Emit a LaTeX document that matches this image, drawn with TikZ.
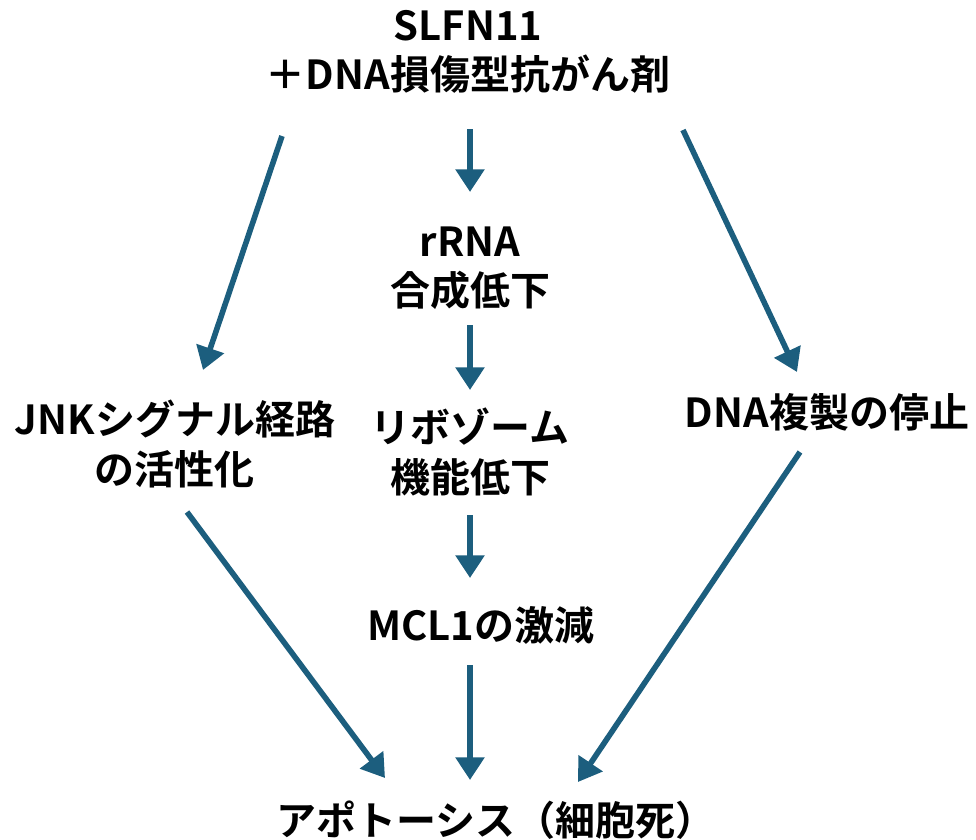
\documentclass[tikz,border=0pt]{standalone}
\usepackage{fontspec}
\setmainfont{Noto Sans CJK JP}[UprightFont=* Bold]
\usetikzlibrary{arrows.meta}
\definecolor{arrowblue}{RGB}{28,94,126}
\begin{document}
\begin{tikzpicture}[x=0.75pt,y=-0.75pt,
  lbl/.style={inner sep=0pt,align=center,font=\fontsize{30}{37}\selectfont},
  flow/.style={draw=arrowblue,line width=4.2pt,-{Triangle[width=21pt,length=17pt]}}]
\useasboundingbox (0,0) rectangle (976,840);
\node[lbl] (top) at (468,52) {SLFN11\\＋DNA損傷型抗がん剤};
\node[lbl] (rrna) at (470,268) {rRNA\\合成低下};
\node[lbl] (jnk) at (175,444) {JNKシグナル経路\\の活性化};
\node[lbl] (ribo) at (470,452) {リボゾーム\\機能低下};
\node[lbl] (dna) at (827,412) {DNA複製の停止};
\node[lbl] (mcl) at (481,625) {MCL1の激減};
\node[lbl] (apo) at (496,820) {アポトーシス（細胞死）};
\coordinate (a1s) at (282,136); \coordinate (a1e) at (203,370);
\coordinate (a2s) at (470,129); \coordinate (a2e) at (470,192);
\coordinate (a3s) at (683,130); \coordinate (a3e) at (797,372);
\coordinate (a4s) at (470,325); \coordinate (a4e) at (470,390);
\coordinate (a5s) at (470,515); \coordinate (a5e) at (470,578);
\coordinate (a6s) at (470,665); \coordinate (a6e) at (470,780);
\coordinate (a7s) at (187,512); \coordinate (a7e) at (385,778);
\coordinate (a8s) at (800,452); \coordinate (a8e) at (578,782);
\draw[flow] (a1s) -- (a1e);
\draw[flow] (a2s) -- (a2e);
\draw[flow] (a3s) -- (a3e);
\draw[flow] (a4s) -- (a4e);
\draw[flow] (a5s) -- (a5e);
\draw[flow] (a6s) -- (a6e);
\draw[flow] (a7s) -- (a7e);
\draw[flow] (a8s) -- (a8e);
\end{tikzpicture}
\end{document}
